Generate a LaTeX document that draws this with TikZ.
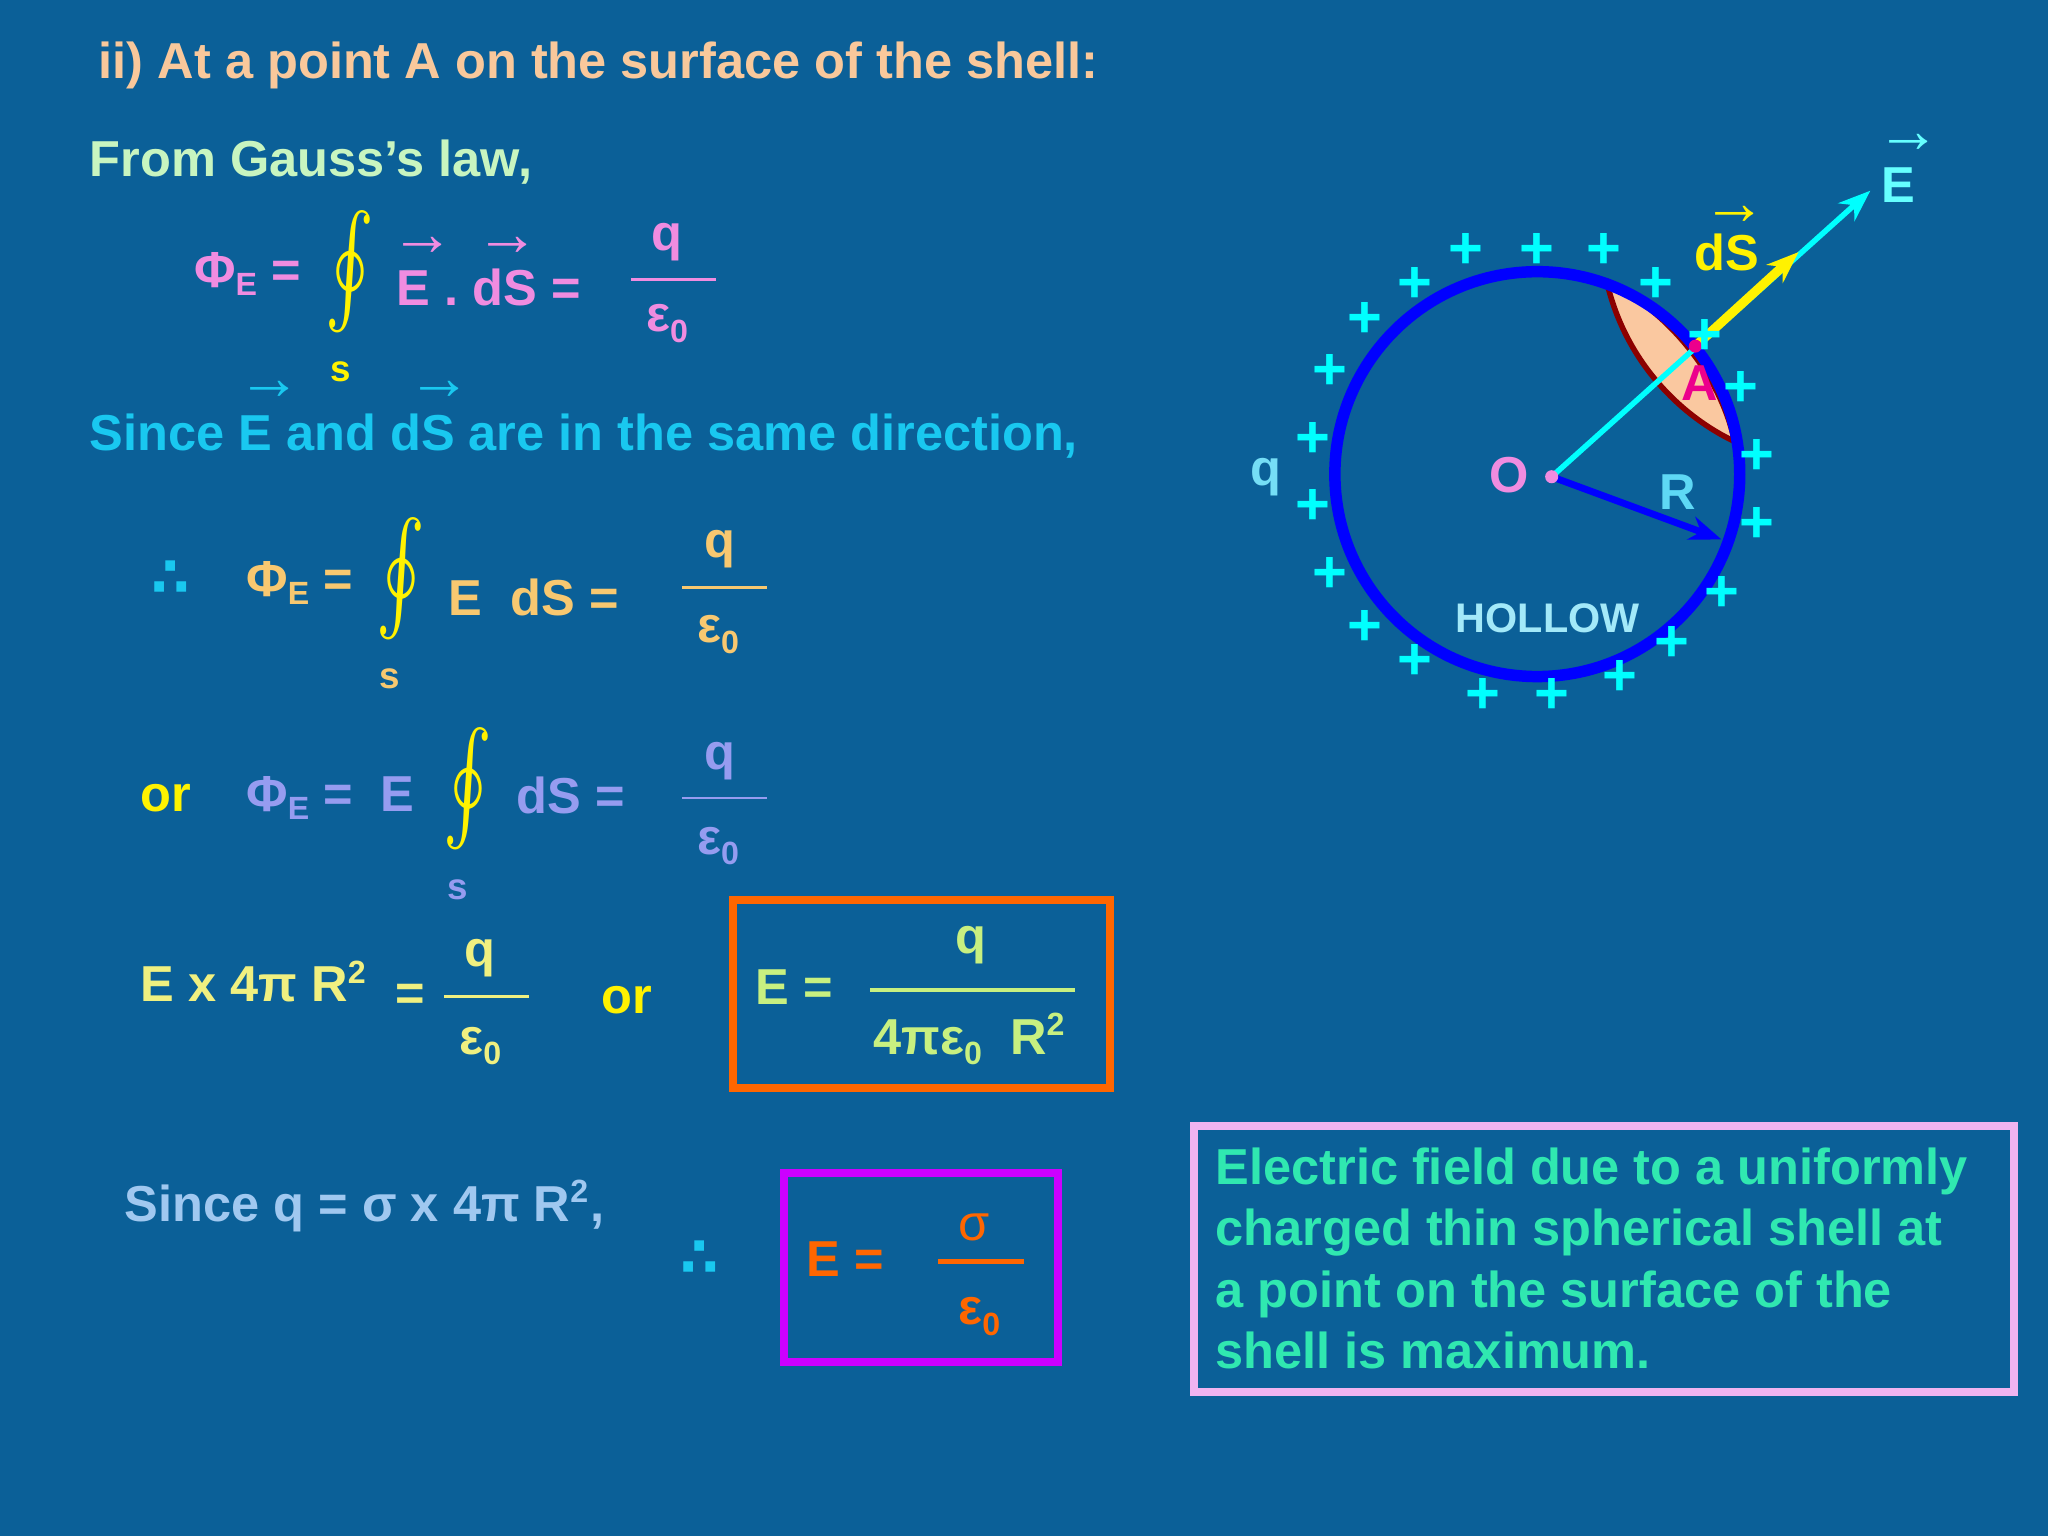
\documentclass[tikz,border=0pt]{standalone}
\usepackage{fontspec}
\setmainfont{Liberation Sans}
\newfontfamily\dv{DejaVu Sans}
\usetikzlibrary{arrows.meta}
\definecolor{bg}{RGB}{11,96,152}
\definecolor{ctitle}{RGB}{249,200,155}
\definecolor{cgreen}{RGB}{200,245,192}
\definecolor{cpink}{RGB}{240,140,224}
\definecolor{ccyan}{RGB}{25,200,240}
\definecolor{corange}{RGB}{248,200,112}
\definecolor{cviolet}{RGB}{150,156,240}
\definecolor{cyel}{RGB}{240,240,128}
\definecolor{clg}{RGB}{200,240,128}
\definecolor{cor}{RGB}{255,102,0}
\definecolor{clb}{RGB}{160,200,240}
\definecolor{cpur}{RGB}{204,0,255}
\definecolor{cbox}{RGB}{240,180,240}
\definecolor{caqua}{RGB}{48,232,176}
\definecolor{cplus}{RGB}{0,255,255}
\definecolor{lens}{RGB}{250,200,160}
\tikzset{t/.style={font=\bfseries\fontsize{11}{13}\selectfont,inner sep=0pt,anchor=base west},
 vec/.style={font=\fontsize{14}{14}\selectfont,inner sep=0pt,anchor=base west},
 fl/.style={line width=0.6pt},
 integ/.style={inner sep=0pt,font=\fontsize{20}{24}\selectfont},
 pl/.style={text=cplus,font=\bfseries\fontsize{13}{13}\selectfont,inner sep=0pt}}
\newcommand{\myint}{\scalebox{1.6}[2.4]{$\oint$}}
\begin{document}
\begin{tikzpicture}[x=0.01cm,y=-0.01cm]
\fill[bg] (0,0) rectangle (1568,1176);
\node[t,text=ctitle] (title) at (75,60) {ii) At a point A on the surface of the shell:};
\node[t,text=cgreen] (gl) at (68,135) {From Gauss’s law,};
% line 1 pink
\node[t,text=cpink] (p1) at (148,220) {Φ\raisebox{-0.3ex}{\fontsize{7}{7}\selectfont E} =};
\node[integ,text=yellow] (i1) at (268,208) {\myint};
\node[t,text=yellow,font=\bfseries\fontsize{8}{8}\selectfont] (s1) at (252,292) {s};
\node[t,text=cpink] (p1b) at (303,234) {E . dS =};
\node[vec,text=cpink] (v1) at (298,196) {→};
\node[vec,text=cpink] (v2) at (363,196) {→};
\node[t,text=cpink] (q1) at (498,192) {q};
\draw[cpink,fl] (483,214) -- (548,214);
\node[t,text=cpink] (e1) at (494,254) {ε\raisebox{-0.4ex}{\fontsize{7}{7}\selectfont 0}};
% since line
\node[t,text=ccyan] (since) at (68,345) {Since E and dS are in the same direction,};
\node[vec,text=ccyan] (v3) at (181,306) {→};
\node[vec,text=ccyan] (v4) at (311,306) {→};
% line 2
\node[t,text=ccyan,font=\dv\bfseries\fontsize{12}{12}\selectfont] (th1) at (115,457) {∴};
\node[t,text=corange] (p2) at (188,457) {Φ\raisebox{-0.3ex}{\fontsize{7}{7}\selectfont E} =};
\node[integ,text=yellow] (i2) at (307,443) {\myint};
\node[t,text=corange,font=\bfseries\fontsize{8}{8}\selectfont] (s2) at (290,527) {s};
\node[t,text=corange] (p2b) at (343,471) {E\ \ dS =};
\node[t,text=corange] (q2) at (539,427) {q};
\draw[corange,fl] (522,450) -- (587,450);
\node[t,text=corange] (e2) at (533,492) {ε\raisebox{-0.4ex}{\fontsize{7}{7}\selectfont 0}};
% line 3
\node[t,text=yellow] (or1) at (107,621) {or};
\node[t,text=cviolet] (p3) at (188,621) {Φ\raisebox{-0.3ex}{\fontsize{7}{7}\selectfont E} =\ \ E};
\node[integ,text=yellow] (i3) at (358,604) {\myint};
\node[t,text=cviolet,font=\bfseries\fontsize{8}{8}\selectfont] (s3) at (342,689) {s};
\node[t,text=cviolet] (p3b) at (395,623) {dS =};
\node[t,text=cviolet] (q3) at (539,589) {q};
\draw[cviolet,fl] (522,611) -- (587,611);
\node[t,text=cviolet] (e3) at (533,654) {ε\raisebox{-0.4ex}{\fontsize{7}{7}\selectfont 0}};
% line 4
\node[t,text=cyel] (l4) at (107,767) {E x 4π R\textsuperscript{\fontsize{7}{7}\selectfont 2}};
\node[t,text=cyel] (eq4) at (302,774) {=};
\node[t,text=cyel] (q4) at (355,740) {q};
\draw[cyel,fl] (340,763) -- (405,763);
\node[t,text=cyel] (e4) at (351,807) {ε\raisebox{-0.4ex}{\fontsize{7}{7}\selectfont 0}};
\node[t,text=yellow] (or2) at (460,776) {or};
\draw[cor,line width=1.8pt] (561,689) rectangle (850,833);
\node[t,text=clg] (E5) at (578,769) {E =};
\node[t,text=clg] (q5) at (731,730) {q};
\draw[clg,line width=1pt] (666,758) -- (823,758);
\node[t,text=clg] (d5) at (668,807) {4πε\raisebox{-0.4ex}{\fontsize{7}{7}\selectfont 0}\ \ R\textsuperscript{\fontsize{7}{7}\selectfont 2}};
% line 5
\node[t,text=clb] (l5) at (95,935) {Since q = σ x 4π R\textsuperscript{\fontsize{7}{7}\selectfont 2},};
\node[t,text=ccyan,font=\dv\bfseries\fontsize{12}{12}\selectfont] (th2) at (520,977) {∴};
\draw[cpur,line width=1.8pt] (600,898) rectangle (810,1043);
\node[t,text=cor] (E6) at (617,977) {E =};
\node[t,text=cor,font=\fontsize{11}{12}\selectfont] (s6) at (733,950) {σ};
\draw[cor,line width=1pt] (718,966) -- (784,966);
\node[t,text=cor] (e6) at (733,1014) {ε\raisebox{-0.4ex}{\fontsize{7}{7}\selectfont 0}};
% right box
\draw[cbox,line width=1.8pt] (914,862) rectangle (1542,1066);
\node[inner sep=0pt,anchor=north west,text=caqua,align=left,font=\bfseries\fontsize{11}{13.4}\selectfont] (box) at (930,878)
 {Electric field due to a uniformly\\charged thin spherical shell at\\a point on the surface of the\\shell is maximum.};
% sphere
\coordinate (O) at (1188,365);
\coordinate (A) at (1298,265);
\coordinate (Etip) at (1432,146);
\coordinate (dStip) at (1377,193);
\coordinate (Rtip) at (1318,413);
\filldraw[fill=lens,draw=red!55!black,line width=1.2pt] (1230,215) .. controls (1245,280) and (1290,320) .. (1328,338) .. controls (1318,290) and (1280,240) .. (1230,215);
\draw[blue,line width=2.5pt] (1177,363) circle (155);
\draw[cplus,line width=1.2pt,-{Stealth[open,length=7pt]}] (O) -- (Etip);
\draw[yellow,line width=2pt,-{Stealth[open,length=7pt]}] (A) -- (dStip);
\draw[blue,line width=1.5pt,-{Stealth[length=7pt]}] (O) -- (Rtip);
\fill[cpink] (O) circle (5);
\fill[magenta] (A) circle (5);
\node[t,text=cpink] (Ol) at (1140,377) {O};
\node[t,text=magenta] (Al) at (1287,307) {A};
\node[t,text=ccyan!70!white] (Rl) at (1270,390) {R};
\node[t,text=ccyan!60!white] (q7) at (957,372) {q};
\node[t,text=ccyan!40!white,font=\bfseries\fontsize{9}{10}\selectfont] (hol) at (1114,484) {HOLLOW};
\node[t,text=yellow] (dSl) at (1297,207) {dS};
\node[vec,text=yellow] (v5) at (1303,172) {→};
\node[t,text=cplus!60!white] (El) at (1440,155) {E};
\node[vec,text=cplus!60!white] (v6) at (1436,117) {→};
\foreach \x/\y [count=\i] in {1122/192,1177/192,1228/192,1268/218,1083/218,1045/245,1018/285,1005/337,1005/388,1018/440,1045/481,1083/507,1135/533,1188/533,1240/519,1280/493,1318/455,1345/402,1345/350,1333/298,1305/258}
  \node[pl] (pl\i) at (\x,\y) {+};
\end{tikzpicture}
\end{document}
